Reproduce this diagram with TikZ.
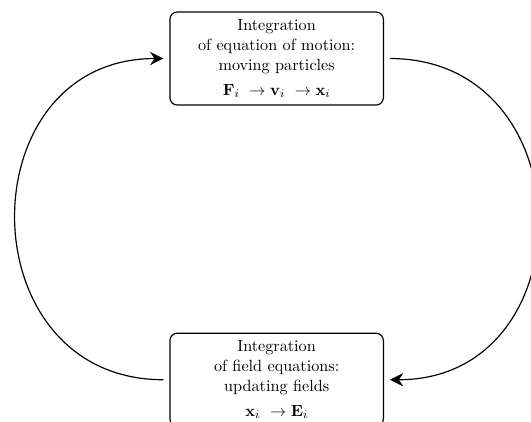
\documentclass[tikz,border=0pt,11pt]{standalone}
\usepackage{amsmath}
\usepackage{tikz}
\usetikzlibrary{positioning,arrows.meta}

\begin{document}
\begin{tikzpicture}
    [solver/.style={rectangle,draw,thick,rounded corners=5pt,align=center,
                    minimum width=5.07cm,minimum height=2.21cm},
     feedback/.style={thick,-{Stealth[length=9pt,width=9pt]},
                      shorten >=4pt,shorten <=4pt}]

    \clip (0,0) rectangle (12.61,-10.0);

    \node[solver] (motion) at (6.57,-1.39) {Integration\\ of equation of motion:\\ moving particles\\[3pt]
      $\mathbf{F}_i\ \rightarrow \mathbf{v}_i\ \rightarrow \mathbf{x}_i$};

    \node[solver] (fields) [below=5.39cm of motion] {Integration\\ of field equations:\\ updating fields\\[3pt]
      $\mathbf{x}_i\ \rightarrow \mathbf{E}_i$};

    \draw[feedback] (motion.east) to[out=0,in=0,looseness=1.62] (fields.east);
    \draw[feedback] (fields.west) to[out=180,in=180,looseness=1.62] (motion.west);
  \end{tikzpicture}
\end{document}
